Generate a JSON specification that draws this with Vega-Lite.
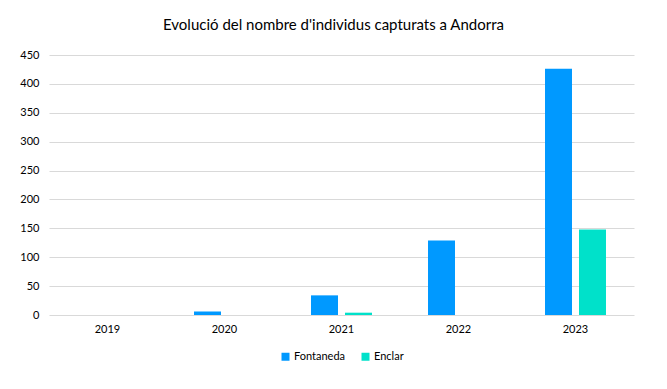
{
  "$schema": "https://vega.github.io/schema/vega-lite/v6.json",
  "autosize": "none",
  "width": 585,
  "height": 260,
  "padding": {"left": 49, "top": 55, "right": 33, "bottom": 74},
  "background": "white",
  "title": {
    "text": "Evolució del nombre d'individus capturats a Andorra",
    "font": "Lato",
    "fontSize": 15,
    "fontWeight": "normal",
    "color": "#000000",
    "anchor": "middle",
    "dx": -8,
    "offset": 16
  },
  "data": {
    "values": [
      {"any": "2019", "serie": "Fontaneda", "valor": 0},
      {"any": "2019", "serie": "Enclar", "valor": 0},
      {"any": "2020", "serie": "Fontaneda", "valor": 6},
      {"any": "2020", "serie": "Enclar", "valor": 0},
      {"any": "2021", "serie": "Fontaneda", "valor": 34},
      {"any": "2021", "serie": "Enclar", "valor": 4},
      {"any": "2022", "serie": "Fontaneda", "valor": 129},
      {"any": "2022", "serie": "Enclar", "valor": 0},
      {"any": "2023", "serie": "Fontaneda", "valor": 426},
      {"any": "2023", "serie": "Enclar", "valor": 148}
    ]
  },
  "mark": {"type": "bar"},
  "encoding": {
    "x": {
      "field": "any",
      "type": "nominal",
      "scale": {"paddingInner": 0, "paddingOuter": 0},
      "axis": {
        "title": null,
        "labelAngle": 0,
        "ticks": false,
        "domain": false,
        "labelPadding": 8,
        "labelFont": "Lato",
        "labelFontSize": 11,
        "labelColor": "#000000"
      }
    },
    "xOffset": {
      "field": "serie",
      "type": "nominal",
      "sort": ["Fontaneda", "Enclar"],
      "scale": {"paddingInner": 0.206, "paddingOuter": 0.824}
    },
    "y": {
      "field": "valor",
      "type": "quantitative",
      "scale": {"domain": [0, 450], "nice": false},
      "axis": {
        "title": null,
        "values": [0, 50, 100, 150, 200, 250, 300, 350, 400, 450],
        "ticks": false,
        "domain": false,
        "gridColor": "#d9d9d9",
        "gridWidth": 1,
        "labelPadding": 10,
        "labelFont": "Lato",
        "labelFontSize": 11,
        "labelColor": "#000000"
      }
    },
    "color": {
      "field": "serie",
      "type": "nominal",
      "scale": {"domain": ["Fontaneda", "Enclar"], "range": ["#0099FF", "#00E1CA"]},
      "legend": {
        "title": null,
        "orient": "bottom",
        "direction": "horizontal",
        "symbolType": "square",
        "symbolSize": 64,
        "symbolStrokeWidth": 0,
        "labelFont": "Lato",
        "labelFontSize": 11,
        "labelColor": "#000000",
        "columnPadding": 14,
        "labelOffset": 3,
        "offset": 17
      }
    }
  },
  "config": {
    "view": {"stroke": null},
    "legend": {"layout": {"bottom": {"anchor": "middle"}}}
  }
}
